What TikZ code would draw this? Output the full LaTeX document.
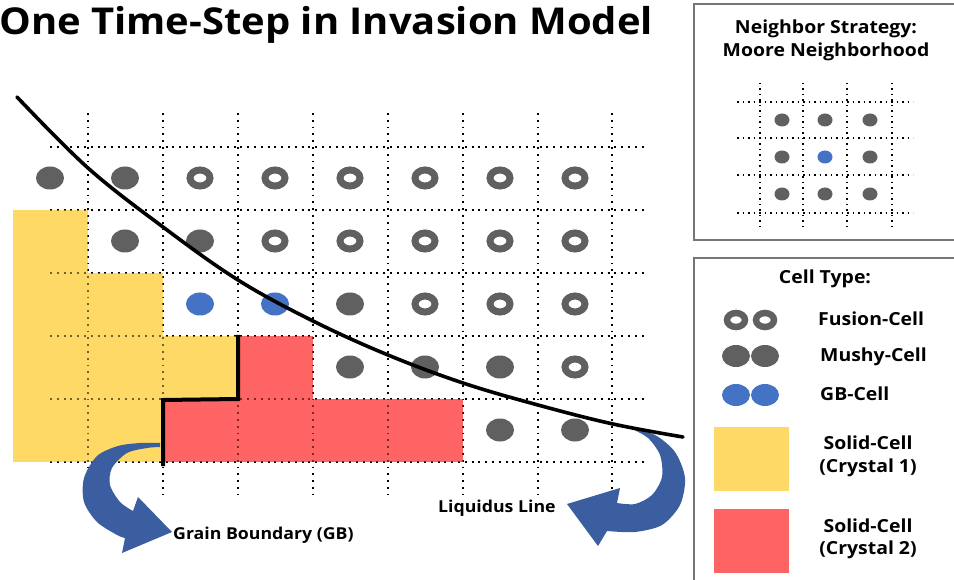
\documentclass[tikz,border=0pt]{standalone}
\usepackage{fontspec}
\setmainfont{Open Sans}[FakeStretch=1.08]
\usetikzlibrary{shapes.geometric}

\definecolor{cellgray}{RGB}{96,96,96}
\definecolor{gbblue}{RGB}{68,114,196}
\definecolor{arrowblue}{RGB}{59,94,160}
\definecolor{solidyellow}{RGB}{255,217,102}
\definecolor{solidred}{RGB}{255,100,100}
\definecolor{framegray}{RGB}{118,118,118}

\tikzset{
  gridline/.style={black, line width=1.9pt, dash pattern=on 1.9pt off 4.9pt},
  smallgrid/.style={black, line width=1.5pt, dash pattern=on 1.5pt off 4pt},
  mushy/.style={ellipse, fill=cellgray, draw=none, inner sep=0pt, minimum width=28pt, minimum height=23pt},
  fusion/.style={ellipse, fill=white, draw=cellgray, line width=7pt, inner sep=0pt, minimum width=20pt, minimum height=16pt},
  gbcell/.style={mushy, fill=gbblue},
  smallmushy/.style={mushy, minimum width=15pt, minimum height=13pt},
  smallgb/.style={smallmushy, fill=gbblue},
  legmushy/.style={mushy, minimum width=28pt, minimum height=22pt},
  leggb/.style={legmushy, fill=gbblue},
  legfusion/.style={fusion, line width=6.5pt, minimum width=18pt, minimum height=14pt},
  yellowcell/.style={fill=solidyellow},
  redcell/.style={fill=solidred},
  bigarrow/.style={fill=arrowblue, draw=none},
  label/.style={font=\bfseries\fontsize{16.4}{18}\selectfont, inner sep=0pt, text=black},
  paneltext/.style={font=\bfseries\fontsize{18}{20}\selectfont, inner sep=0pt, text=black},
  panelframe/.style={draw=framegray, line width=2pt, fill=white}
}

\begin{document}
\begin{tikzpicture}[x=1pt,y=-1pt]
  \useasboundingbox (0,0) rectangle (954,580);

  % ---- lattice of the main grid ----
  \foreach \gx in {88,163,238,313,388,463,538,612}
    \draw[gridline] (\gx,113) -- (\gx,494);
  \foreach \gy in {147,210,273,336,399,462}
    \draw[gridline] (50,\gy) -- (648,\gy);

  % ---- solid cells, crystal 1 ----
  \fill[yellowcell] (13,210) rectangle (88,273);
  \fill[yellowcell] (13,273) rectangle (163,336);
  \fill[yellowcell] (13,336) rectangle (238,399);
  \fill[yellowcell] (13,399) rectangle (163,462);
  % ---- solid cells, crystal 2 ----
  \fill[redcell] (238,336) rectangle (313,399);
  \fill[redcell] (163,399) rectangle (463,462);

  % ---- lattice showing through the solid cells ----
  \begin{scope}[draw opacity=0.55]
    \foreach \gx in {88,163,238,313,388,463,538,612}
      \draw[gridline] (\gx,113) -- (\gx,494);
    \foreach \gy in {147,210,273,336,399,462}
      \draw[gridline] (50,\gy) -- (648,\gy);
  \end{scope}

  % ---- curved callout arrows ----
  \fill[bigarrow] plot[smooth] coordinates {(160,443) (140,443) (118,446) (97,456) (84,478) (84,502) (97,522) (117,535) (125,538)}
    -- (122,553) -- (172,532) -- (138,497) -- (133,511)
    -- plot[smooth] coordinates {(133,511) (120,502) (110,485) (112,468) (127,453) (147,448) (160,447)} -- cycle;
  \fill[bigarrow] plot[smooth] coordinates {(632,429) (655,435) (675,452) (685,478) (680,505) (662,525) (635,532) (607,531)}
    -- (598,546) -- (567,504) -- (620,488) -- (617,503)
    -- plot[smooth] coordinates {(617,503) (635,504) (652,495) (662,477) (660,455) (648,438) (632,429)} -- cycle;

  % ---- row 1 ----
  \node[mushy]  (r1c0) at (50,178) {};
  \node[mushy]  (r1c1) at (125,178) {};
  \node[fusion] (r1c2) at (200,178) {};
  \node[fusion] (r1c3) at (275,178) {};
  \node[fusion] (r1c4) at (350,178) {};
  \node[fusion] (r1c5) at (425,178) {};
  \node[fusion] (r1c6) at (500,178) {};
  \node[fusion] (r1c7) at (575,178) {};
  % ---- row 2 ----
  \node[mushy]  (r2c1) at (125,241) {};
  \node[mushy]  (r2c2) at (200,241) {};
  \node[fusion] (r2c3) at (275,241) {};
  \node[fusion] (r2c4) at (350,241) {};
  \node[fusion] (r2c5) at (425,241) {};
  \node[fusion] (r2c6) at (500,241) {};
  \node[fusion] (r2c7) at (575,241) {};
  % ---- row 3 ----
  \node[gbcell] (r3c2) at (200,304) {};
  \node[gbcell] (r3c3) at (275,304) {};
  \node[mushy]  (r3c4) at (350,304) {};
  \node[fusion] (r3c5) at (425,304) {};
  \node[fusion] (r3c6) at (500,304) {};
  \node[fusion] (r3c7) at (575,304) {};
  % ---- row 4 ----
  \node[mushy]  (r4c4) at (350,367) {};
  \node[mushy]  (r4c5) at (425,367) {};
  \node[mushy]  (r4c6) at (500,367) {};
  \node[fusion] (r4c7) at (575,367) {};
  % ---- row 5 ----
  \node[mushy]  (r5c6) at (500,430) {};
  \node[mushy]  (r5c7) at (575,430) {};

  % ---- grain boundary between the two crystals ----
  \coordinate (gbA) at (163,466);
  \coordinate (gbB) at (163,400);
  \coordinate (gbC) at (238,399);
  \coordinate (gbD) at (238,335);
  \draw[line width=4pt] (gbA) -- (gbB) -- (gbC) -- (gbD);

  % ---- liquidus line ----
  \draw[line width=3.6pt, line cap=round] plot[smooth, tension=0.6] coordinates
    {(17,97) (88,168) (163,227) (238,280) (313,321) (388,355) (463,383) (538,405) (613,424) (683,437)};

  % ---- titles and labels ----
  \node[inner sep=0pt, anchor=base west, font=\bfseries\fontsize{37}{40}\selectfont] (title) at (-1,35) {One Time-Step in Invasion Model};
  \node[label, anchor=base west] (gblabel) at (173,539) {Grain Boundary (GB)};
  \node[label, anchor=base west] (liqlabel) at (438,512) {Liquidus Line};

  % ---- neighbour panel ----
  \draw[panelframe] (694,4) rectangle (962,240);
  \node[paneltext, anchor=base] (nbA) at (826,34) {Neighbor Strategy:};
  \node[paneltext, anchor=base] (nbB) at (826,57) {Moore Neighborhood};
  \foreach \gx in {760,803,847,892}
    \draw[smallgrid] (\gx,83) -- (\gx,231);
  \foreach \gy in {102,138,175,213}
    \draw[smallgrid] (737,\gy) -- (913,\gy);
  \node[smallmushy] (m11) at (782,120) {};
  \node[smallmushy] (m12) at (825,120) {};
  \node[smallmushy] (m13) at (870,120) {};
  \node[smallmushy] (m21) at (782,157) {};
  \node[smallgb]    (m22) at (825,157) {};
  \node[smallmushy] (m23) at (870,157) {};
  \node[smallmushy] (m31) at (782,194) {};
  \node[smallmushy] (m32) at (825,194) {};
  \node[smallmushy] (m33) at (870,194) {};

  % ---- legend panel ----
  \draw[panelframe] (694,258) rectangle (962,592);
  \node[paneltext, anchor=base] (ctitle) at (825,284) {Cell Type:};
  \node[legfusion] (lfA) at (736,320) {};
  \node[legfusion] (lfB) at (765,320) {};
  \node[paneltext, anchor=base west] (lfT) at (818,326) {Fusion-Cell};
  \node[legmushy] (lmA) at (736,356) {};
  \node[legmushy] (lmB) at (765,356) {};
  \node[paneltext, anchor=base west] (lmT) at (820,362) {Mushy-Cell};
  \node[leggb] (lgA) at (736,395) {};
  \node[leggb] (lgB) at (765,395) {};
  \node[paneltext, anchor=base west] (lgT) at (820,400) {GB-Cell};
  \fill[solidyellow] (714,427) rectangle (789,491);
  \node[paneltext, anchor=base] (ly1) at (868,449) {Solid-Cell};
  \node[paneltext, anchor=base] (ly2) at (868,472) {(Crystal 1)};
  \fill[solidred] (714,509) rectangle (789,573);
  \node[paneltext, anchor=base] (lr1) at (868,532) {Solid-Cell};
  \node[paneltext, anchor=base] (lr2) at (868,554) {(Crystal 2)};
\end{tikzpicture}
\end{document}
